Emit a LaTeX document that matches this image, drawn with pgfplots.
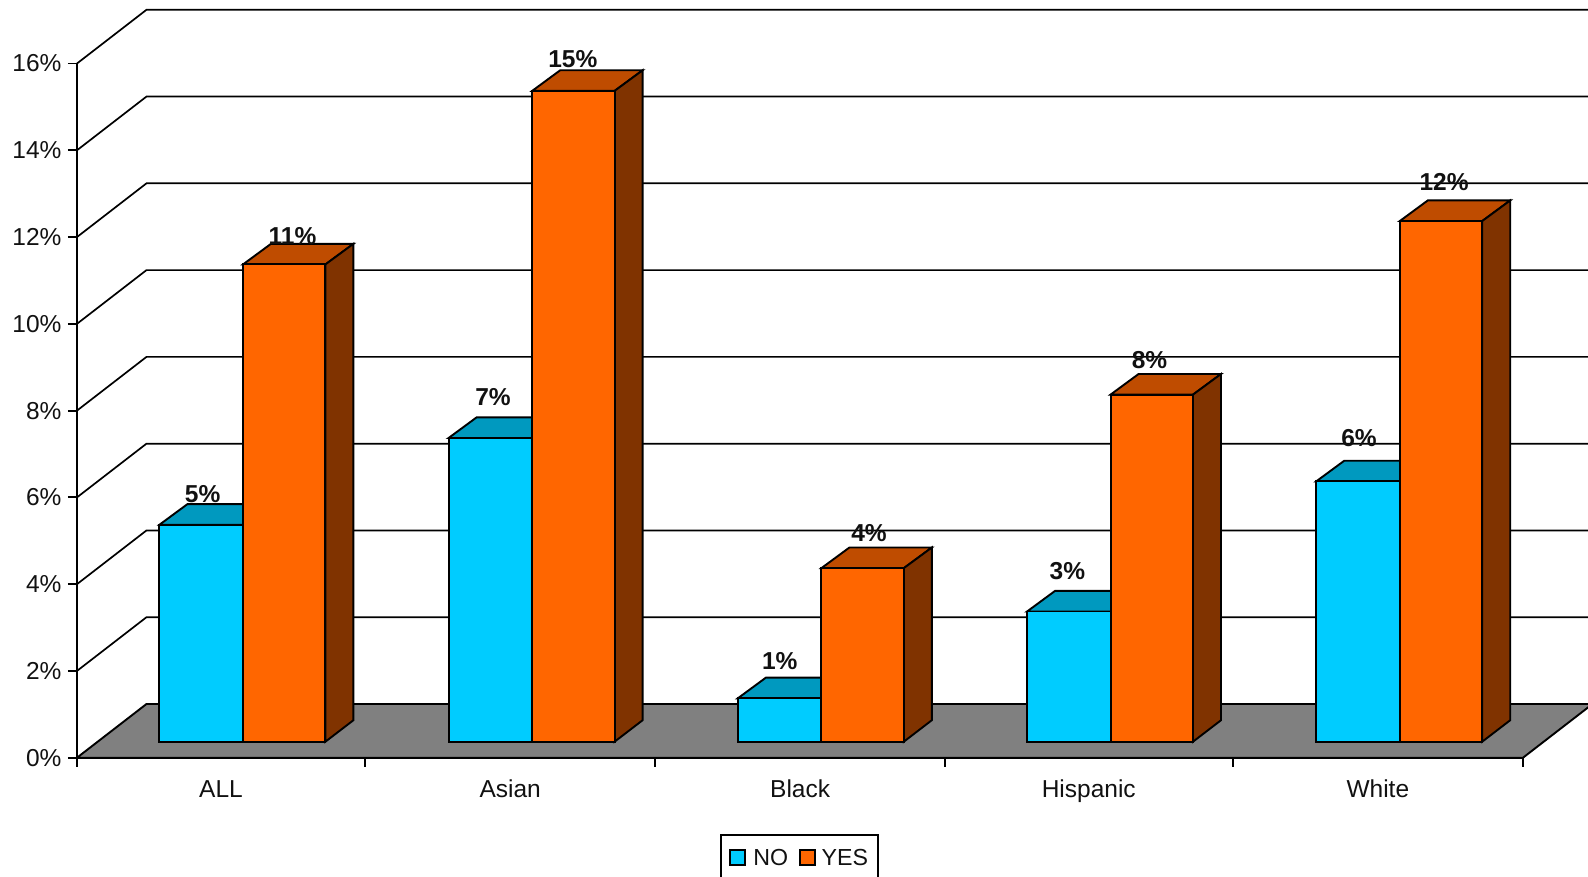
\documentclass[border=0pt]{standalone}
\usepackage{pgfplots}
\pgfplotsset{compat=1.18}
\usepackage{fontspec}
\setmainfont{Liberation Sans}
\definecolor{noF}{HTML}{00CCFF}
\definecolor{noT}{HTML}{0099BF}
\definecolor{yesF}{HTML}{FF6600}
\definecolor{yesT}{HTML}{BF4C00}
\definecolor{yesS}{HTML}{803300}
\definecolor{floorC}{HTML}{808080}
\definecolor{txt}{HTML}{111111}
% bar geometry, in axis units
\def\base{0.369}
\def\ddx{0.0968}
\def\topdy{0.475}
\def\basedy{0.495}
\def\lw{1.9pt}
% #1 left x, #2 right x, #3 value
\newcommand\NoBar[3]{%
  \pgfmathsetmacro\yt{#3+\base}%
  \pgfmathsetmacro\ytb{\yt+\topdy}%
  \pgfmathsetmacro\xlb{#1+\ddx}%
  \pgfmathsetmacro\xrb{#2+\ddx}%
  \addplot[forget plot,fill=noT,draw=black,line width=\lw,line join=miter] coordinates {(#1,\yt)(\xlb,\ytb)(\xrb,\ytb)(#2,\yt)} -- cycle;
  \addplot[forget plot,fill=noF,draw=black,line width=\lw,line join=miter] coordinates {(#1,\base)(#1,\yt)(#2,\yt)(#2,\base)} -- cycle;
}
\newcommand\YesBar[3]{%
  \pgfmathsetmacro\yt{#3+\base}%
  \pgfmathsetmacro\ytb{\yt+\topdy}%
  \pgfmathsetmacro\ybb{\base+\basedy}%
  \pgfmathsetmacro\xlb{#1+\ddx}%
  \pgfmathsetmacro\xrb{#2+\ddx}%
  \addplot[forget plot,fill=yesT,draw=black,line width=\lw,line join=miter] coordinates {(#1,\yt)(\xlb,\ytb)(\xrb,\ytb)(#2,\yt)} -- cycle;
  \addplot[forget plot,fill=yesS,draw=black,line width=\lw,line join=miter] coordinates {(#2,\base)(#2,\yt)(\xrb,\ytb)(\xrb,\ybb)} -- cycle;
  \addplot[forget plot,fill=yesF,draw=black,line width=\lw,line join=miter] coordinates {(#1,\base)(#1,\yt)(#2,\yt)(#2,\base)} -- cycle;
}
% #1 group index, #2 NO value, #3 YES value
\newcommand\Group[3]{%
  \pgfmathsetmacro\xa{#1+0.285}%
  \pgfmathsetmacro\xb{#1+0.574}%
  \pgfmathsetmacro\xc{#1+0.859}%
  \NoBar{\xa}{\xb}{#2}%
  \YesBar{\xb}{\xc}{#3}%
}
% value label at image position #1,#2
\newcommand\Lab[3]{\node[font=\fontsize{24.5}{28}\selectfont\bfseries,text=txt,inner sep=0pt] at (axis cs:{(#1-77)/289.2},{(757.7-#2)/43.39}) {#3\%};}
\newcommand\Grid[2]{\addplot[forget plot,black,line width=1.7pt] coordinates {(0,#1)(0.2403,#2)(5.3,#2)};}
\begin{document}
\begin{tikzpicture}[x=1pt,y=1pt]
\clip[use as bounding box] (0,0) rectangle (1588,876);
\begin{axis}[
  at={(77pt,118.3pt)},anchor=origin,
  width=1446pt,height=694.2pt,scale only axis,
  clip=false,
  xmin=0,xmax=5,ymin=0,ymax=16,
  axis lines=left,
  axis line style={-,line width=\lw,black},
  tick style={black,line width=\lw},
  tick align=outside,
  major tick length=9pt,
  xtick={0,0.996,2,3.001,3.996,5},
  x tick label as interval,
  xticklabels={ALL,Asian,Black,Hispanic,White},
  ytick={0,2,4,6,8,10,12,14,16},
  yticklabel={\pgfmathprintnumber{\tick}\%},
  /pgf/number format/assume math mode=true,
  tick label style={font=\fontsize{24.5}{28}\selectfont,text=txt},
  xticklabel style={yshift=-10pt},
  yticklabel style={xshift=-3pt},
  legend columns=2,
  legend cell align=left,
  legend style={
    at={(axis cs:2.2234,-1.76)},anchor=north west,
    draw=black,line width=\lw,
    font=\fontsize{23.2}{28}\selectfont,text=txt,
    inner xsep=8pt,inner ysep=12pt,
    /tikz/column 1/.style={column sep=5.5pt},
    /tikz/column 2/.style={column sep=8.5pt},
    /tikz/column 3/.style={column sep=4pt},
  },
  legend image code/.code={\draw[#1,line width=\lw] (0pt,-7.5pt) rectangle (15pt,7.5pt);},
]
\addlegendimage{fill=noF,draw=black}
\addlegendentry{NO}
\addlegendimage{fill=yesF,draw=black}
\addlegendentry{YES}
% back wall and side wall lines
\Grid{2}{3.238}
\Grid{4}{5.238}
\Grid{6}{7.238}
\Grid{8}{9.238}
\Grid{10}{11.238}
\Grid{12}{13.238}
\Grid{14}{15.238}
\Grid{16}{17.238}
% floor
\addplot[forget plot,fill=floorC,draw=black,line width=\lw] coordinates {(0,0)(5,0)(5.2403,1.238)(0.2403,1.238)} -- cycle;
% bars
\Group{0}{5}{11}
\Group{1}{7}{15}
\Group{2}{1}{4}
\Group{3}{3}{8}
\Group{4}{6}{12}
% labels
\Lab{202.6}{494}{5}
\Lab{292.5}{236}{11}
\Lab{493}{397}{7}
\Lab{572.8}{58.7}{15}
\Lab{779.7}{661}{1}
\Lab{869}{532.7}{4}
\Lab{1067.4}{571}{3}
\Lab{1149.5}{360.5}{8}
\Lab{1359}{438.5}{6}
\Lab{1444}{182.3}{12}
\end{axis}
\end{tikzpicture}
\end{document}
